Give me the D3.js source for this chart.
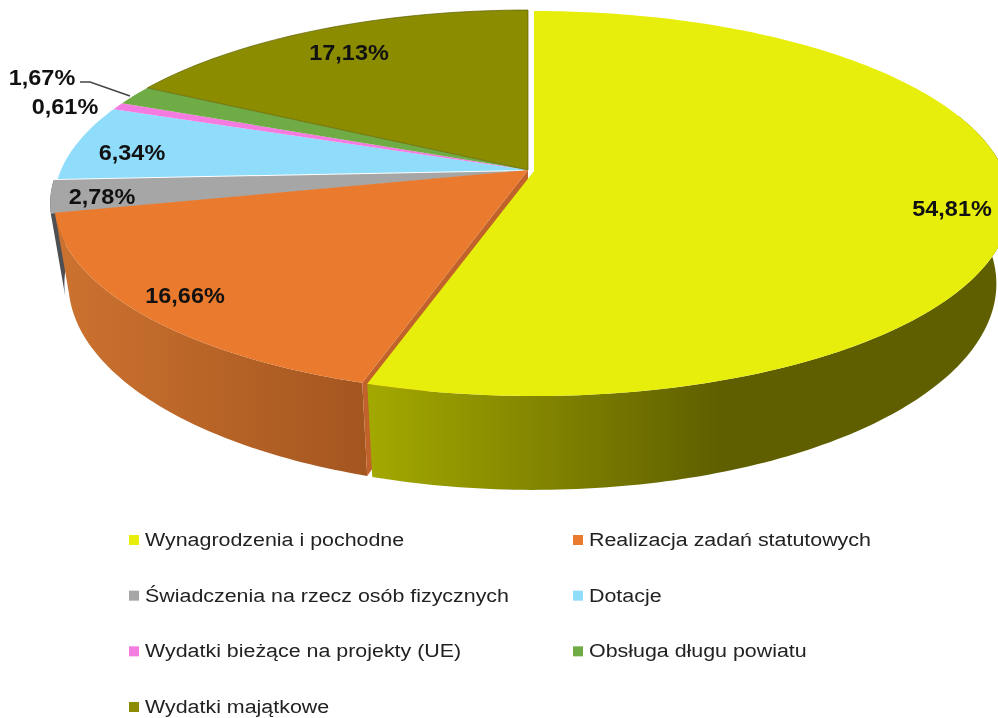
<!DOCTYPE html>
<html>
<head>
<meta charset="utf-8">
<script src="https://cdn.jsdelivr.net/npm/d3@7"></script>
<style>
    html, body { margin: 0; padding: 0; background: #fff; overflow: hidden; }
    svg { display: block; filter: blur(0.55px); }
    text { font-family: "Liberation Sans", Arial, sans-serif; }
</style>
</head>
<body>
<div id="chart"></div>
<script>
const categories = ['Wynagrodzenia i pochodne', 'Realizacja zadań statutowych', 'Świadczenia na rzecz osób fizycznych', 'Dotacje', 'Wydatki bieżące na projekty (UE)', 'Obsługa długu powiatu', 'Wydatki majątkowe']
const values = [54.81, 16.66, 2.78, 6.34, 0.61, 1.67, 17.13]
const colors = ['#e8ee0c', '#e97a2e', '#a6a6a6', '#8fdcfb', '#f47be0', '#6fac46', '#8b8c00']
const sideColors = [['#a3a800', '#5f5f00'], ['#cc7230', '#a4561f'], ['#4d4f52', '#4d4f52']]
const labelSpots = [[952, 208], [185, 295], [102, 196], [132, 152], [65, 106], [42, 77], [349, 52]]

class Pie3D {

    constructor(container) {
        this.width = 998
        this.height = 718
        this.cx = 528
        this.cy = 170
        this.rx = 467
        this.ry = 187
        this.persp = 0.169
        this.depth = 78
        this.shrink = 0.97
        // exploded slices: yellow to the right (and a bit wider), gray to the left
        this.offsets = {0: [6, 1, 1.006], 2: [-4, 1, 1]}
        this.svg = d3.select(container).append('svg')
            .attr('width', this.width)
            .attr('height', this.height)
        this.defs = this.svg.append('defs')
        this.line = d3.line().x(d => d[0]).y(d => d[1])
        this.arcs = d3.pie().sort(null).value(d => d)(values)
        this.color = d3.scaleOrdinal().domain(d3.range(values.length)).range(colors)
    }

    // angle on the circle -> screen point, optionally on the lower plane
    project(a, i, bottom, r = 1) {
        const off = this.offsets[i] || [0, 0, 1]
        const u = Math.sin(a) * r
        const v = -Math.cos(a) * r
        const s = 1 / (1 - this.persp * v)
        const k = bottom ? this.shrink : 1
        return [
            this.cx + off[0] + this.rx * off[2] * u * s * k,
            this.cy + off[1] + this.ry * v * s + (bottom ? this.depth * s : 0)
        ]
    }

    rim(a0, a1, i, bottom) {
        const n = Math.max(2, Math.ceil((a1 - a0) * 60))
        return d3.range(n + 1).map(j => this.project(a0 + (a1 - a0) * j / n, i, bottom))
    }

    gradient(id, stops, x1, x2) {
        const g = this.defs.append('linearGradient')
            .attr('id', id)
            .attr('gradientUnits', 'userSpaceOnUse')
            .attr('x1', x1).attr('x2', x2).attr('y1', 0).attr('y2', 0)
        g.selectAll('stop').data(stops).enter().append('stop')
            .attr('offset', (d, i) => i / (stops.length - 1))
            .attr('stop-color', d => d)
    }

    drawSides() {
        const sides = this.svg.append('g').attr('class', 'sides')
        this.gradient('side0', sideColors[0], 372, 720)
        this.gradient('side1', sideColors[1], 60, 365)
        this.gradient('side2', sideColors[2], 40, 80)

        // gray, orange, then the cut wall of orange, then yellow in front
        const rimSide = (i, a0, a1) => {
            const top = this.rim(a0, a1, i, false)
            const low = this.rim(a0, a1, i, true).reverse()
            sides.append('path')
                .attr('d', this.line(top.concat(low)) + 'Z')
                .attr('fill', `url(#side${i})`)
        }
        // gray wall starts a little early, orange hides the extra part
        rimSide(2, this.arcs[2].startAngle - 0.035, this.arcs[2].endAngle)
        rimSide(1, this.arcs[1].startAngle, this.arcs[1].endAngle)

        const a = this.arcs[1].startAngle
        const wall = [this.project(a, 1, false, 0), this.project(a, 1, false), this.project(a, 1, true), this.project(a, 1, true, 0)]
        sides.append('path')
            .attr('d', this.line(wall) + 'Z')
            .attr('fill', '#c0622a')

        rimSide(0, Math.PI * 0.4, this.arcs[0].endAngle)
    }

    drawTops() {
        const order = [2, 1, 3, 4, 5, 6, 0]
        this.svg.append('g').attr('class', 'tops')
            .selectAll('path')
            .data(order)
            .enter()
            .append('path')
            .attr('d', i => {
                const d = this.arcs[i]
                return this.line([this.project(0, i, false, 0)].concat(this.rim(d.startAngle, d.endAngle, i, false))) + 'Z'
            })
            .attr('fill', i => this.color(i))
            .attr('stroke', i => i === 6 ? '#5f6000' : 'none')
            .attr('stroke-width', 0.7)
    }

    drawLabels() {
        const labels = this.svg.append('g').attr('class', 'labels')
        labels.selectAll('text')
            .data(values)
            .enter()
            .append('text')
            .text(d => d.toFixed(2).replace('.', ',') + '%')
            .attr('transform', (d, i) => `translate(${labelSpots[i][0]},${labelSpots[i][1]}) scale(1.08,1)`)
            .attr('text-anchor', 'middle')
            .attr('dy', '0.36em')
            .attr('font-size', 21.7)
            .attr('font-weight', 'bold')
            .attr('fill', '#111')

        // leader line for the small green slice
        labels.append('path')
            .attr('d', this.line([[80, 82], [90, 82], [130, 96]]))
            .attr('fill', 'none')
            .attr('stroke', '#444')
            .attr('stroke-width', 1.4)
    }

    drawLegend() {
        const x = d3.scalePoint().domain([0, 1]).range([129, 573])
        const y = d3.scalePoint().domain([0, 1, 2, 3]).range([540, 707])
        const legend = this.svg.append('g').attr('class', 'legend')
        const items = legend.selectAll('g')
            .data(categories)
            .enter()
            .append('g')
            .attr('transform', (d, i) => `translate(${x(i % 2)},${y(Math.floor(i / 2))})`)
        items.append('rect')
            .attr('y', -5)
            .attr('width', 10)
            .attr('height', 10)
            .attr('fill', (d, i) => this.color(i))
        items.append('text')
            .text(d => d)
            .attr('transform', 'translate(16,0) scale(1.19,1)')
            .attr('dy', '0.33em')
            .attr('font-size', 18)
            .attr('fill', '#222')
    }

    draw() {
        this.drawSides()
        this.drawTops()
        this.drawLabels()
        this.drawLegend()
    }
}

new Pie3D(document.getElementById('chart')).draw()
</script>
</body>
</html>
